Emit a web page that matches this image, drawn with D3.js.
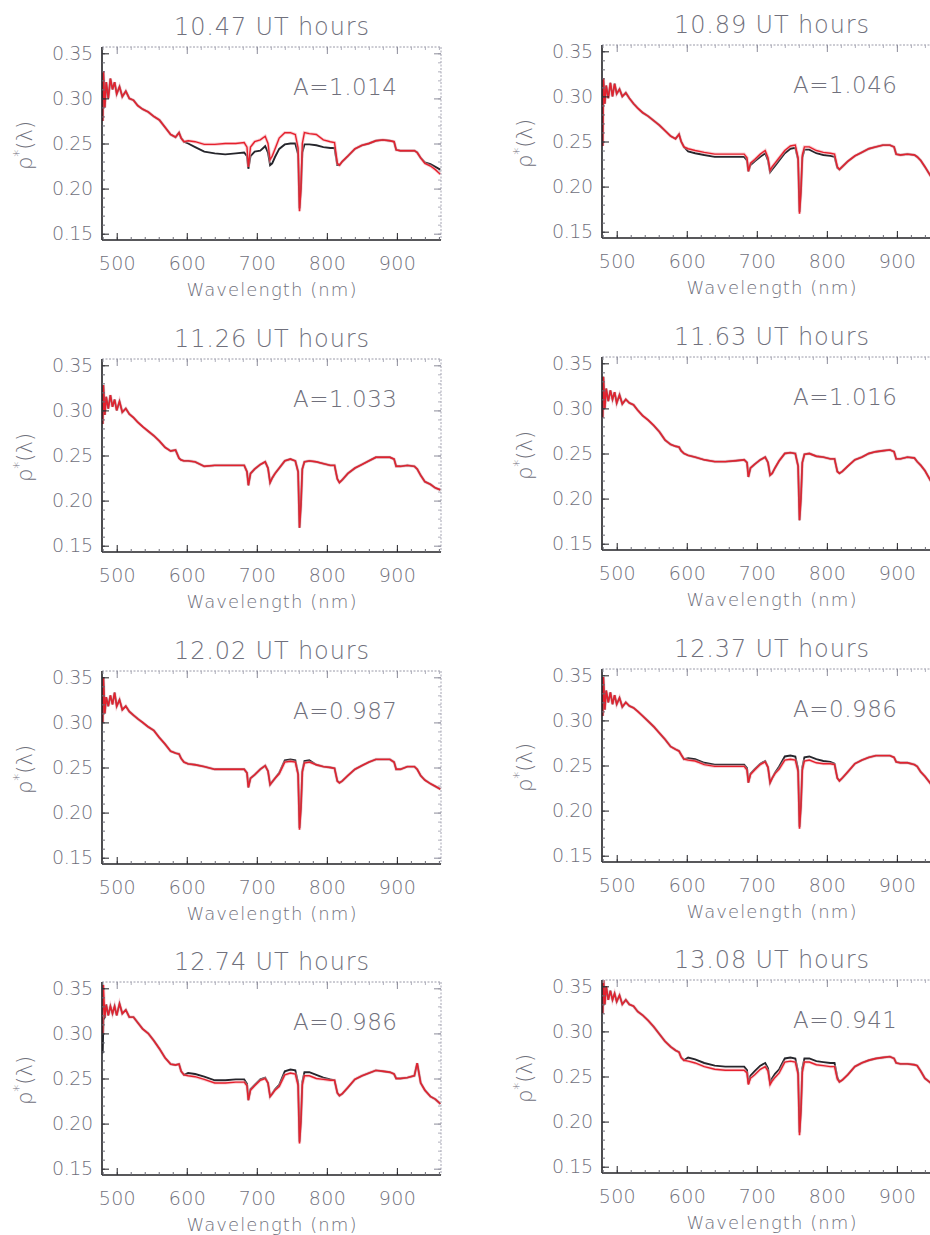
<!DOCTYPE html>
<html>
<head>
<meta charset="utf-8">
<script src="https://cdn.jsdelivr.net/npm/d3@7"></script>
<style>
  body { margin: 0; background: #fff; }
  svg text { font-family: "DejaVu Sans", sans-serif; font-weight: 200; fill: #70707c; }
</style>
</head>
<body>
<script>
// wavelength grid (nm) shared by every spectrum
const wavelength = [
  480, 481, 483, 485, 488, 491, 494, 497, 500, 504,
  508, 513, 518, 524, 530, 537, 545, 553, 561, 569,
  577, 584, 589, 592, 596, 602, 612, 625, 640, 655,
  670, 682, 686, 688, 691, 697, 705, 712, 716, 719,
  722, 726, 732, 740, 748, 755, 759, 761, 763, 765,
  768, 775, 785, 795, 805, 811, 815, 818, 822, 830,
  840, 850, 860, 870, 880, 890, 896, 899, 905, 915,
  925, 929, 934, 940, 948, 955, 962]

const hours = ['10.47', '10.89', '11.26', '11.63', '12.02', '12.37', '12.74', '13.08']
const amplitude = ['1.014', '1.046', '1.033', '1.016', '0.987', '0.986', '0.986', '0.941']

const yTicks = [0.15, 0.20, 0.25, 0.30, 0.35]
const xTicks = [500, 600, 700, 800, 900]

// measured (black) and model (red) reflectance, one pair per panel
const black1 = [
  0.275,0.330,0.290,0.318,0.300,0.322,0.310,0.318,0.305,0.313,
  0.302,0.308,0.300,0.298,0.292,0.288,0.285,0.280,0.276,0.268,
  0.260,0.257,0.262,0.256,0.252,0.250,0.246,0.241,0.239,0.238,
  0.239,0.240,0.236,0.222,0.236,0.241,0.242,0.247,0.240,0.226,
  0.228,0.235,0.244,0.249,0.250,0.250,0.238,0.178,0.200,0.240,
  0.249,0.249,0.248,0.246,0.245,0.245,0.226,0.226,0.230,0.236,
  0.244,0.248,0.250,0.253,0.254,0.253,0.252,0.243,0.242,0.242,
  0.242,0.240,0.234,0.229,0.227,0.224,0.221]
const red1 = [
  0.275,0.330,0.290,0.318,0.300,0.322,0.310,0.318,0.305,0.313,
  0.302,0.308,0.300,0.298,0.292,0.288,0.285,0.280,0.276,0.268,
  0.260,0.257,0.262,0.256,0.252,0.253,0.252,0.249,0.249,0.250,
  0.250,0.251,0.246,0.224,0.246,0.252,0.254,0.258,0.250,0.232,
  0.236,0.244,0.256,0.262,0.262,0.260,0.245,0.175,0.200,0.250,
  0.262,0.261,0.260,0.254,0.252,0.251,0.228,0.226,0.230,0.236,
  0.244,0.248,0.250,0.253,0.254,0.253,0.252,0.243,0.242,0.242,
  0.242,0.240,0.234,0.228,0.225,0.221,0.216]

const black2 = [
  0.245,0.320,0.292,0.312,0.298,0.315,0.300,0.314,0.303,0.308,
  0.300,0.304,0.298,0.292,0.287,0.282,0.278,0.273,0.268,0.262,
  0.256,0.253,0.258,0.250,0.244,0.239,0.237,0.235,0.233,0.233,
  0.233,0.233,0.229,0.217,0.224,0.228,0.233,0.237,0.229,0.216,
  0.219,0.223,0.229,0.237,0.242,0.243,0.230,0.172,0.195,0.232,
  0.241,0.241,0.237,0.235,0.234,0.233,0.221,0.219,0.222,0.228,
  0.234,0.238,0.242,0.244,0.246,0.246,0.244,0.236,0.235,0.236,
  0.235,0.233,0.229,0.222,0.212,0.206,0.200]
const red2 = [
  0.245,0.320,0.292,0.312,0.298,0.315,0.300,0.314,0.303,0.308,
  0.300,0.304,0.298,0.292,0.287,0.282,0.278,0.273,0.268,0.262,
  0.256,0.253,0.258,0.250,0.244,0.242,0.240,0.238,0.236,0.236,
  0.236,0.236,0.232,0.217,0.226,0.230,0.236,0.240,0.232,0.218,
  0.222,0.226,0.232,0.240,0.245,0.246,0.232,0.170,0.195,0.235,
  0.244,0.244,0.240,0.238,0.237,0.236,0.222,0.219,0.222,0.228,
  0.234,0.238,0.242,0.244,0.246,0.246,0.244,0.236,0.235,0.236,
  0.235,0.233,0.229,0.222,0.212,0.206,0.200]

const black3 = [
  0.285,0.328,0.295,0.315,0.302,0.317,0.304,0.312,0.300,0.310,
  0.298,0.302,0.296,0.292,0.287,0.282,0.277,0.272,0.266,0.259,
  0.255,0.256,0.247,0.245,0.244,0.244,0.243,0.238,0.239,0.239,
  0.239,0.239,0.232,0.217,0.230,0.235,0.240,0.243,0.236,0.220,
  0.225,0.230,0.236,0.244,0.246,0.244,0.232,0.170,0.195,0.235,
  0.243,0.244,0.243,0.241,0.239,0.239,0.224,0.220,0.223,0.230,
  0.236,0.240,0.244,0.248,0.248,0.248,0.246,0.238,0.238,0.239,
  0.238,0.235,0.228,0.221,0.218,0.214,0.212]
const red3 = [
  0.285,0.328,0.295,0.315,0.302,0.317,0.304,0.312,0.300,0.310,
  0.298,0.302,0.296,0.292,0.287,0.282,0.277,0.272,0.266,0.259,
  0.255,0.256,0.247,0.245,0.244,0.244,0.243,0.238,0.239,0.239,
  0.239,0.239,0.232,0.217,0.230,0.235,0.240,0.243,0.236,0.220,
  0.225,0.230,0.236,0.244,0.246,0.244,0.232,0.170,0.195,0.235,
  0.243,0.244,0.243,0.241,0.239,0.239,0.224,0.220,0.223,0.230,
  0.236,0.240,0.244,0.248,0.248,0.248,0.246,0.238,0.238,0.239,
  0.238,0.235,0.228,0.221,0.218,0.214,0.212]

const black4 = [
  0.290,0.335,0.300,0.322,0.308,0.320,0.310,0.318,0.306,0.315,
  0.305,0.310,0.306,0.304,0.298,0.292,0.287,0.281,0.274,0.265,
  0.260,0.258,0.257,0.253,0.250,0.248,0.246,0.243,0.241,0.241,
  0.242,0.243,0.240,0.224,0.234,0.238,0.243,0.246,0.240,0.226,
  0.228,0.234,0.242,0.250,0.251,0.250,0.236,0.176,0.200,0.240,
  0.249,0.250,0.247,0.246,0.244,0.244,0.230,0.228,0.230,0.236,
  0.243,0.246,0.250,0.252,0.253,0.254,0.252,0.244,0.244,0.246,
  0.245,0.241,0.237,0.231,0.220,0.214,0.208]
const red4 = [
  0.290,0.335,0.300,0.322,0.308,0.320,0.310,0.318,0.306,0.315,
  0.305,0.310,0.306,0.304,0.298,0.292,0.287,0.281,0.274,0.265,
  0.260,0.258,0.257,0.253,0.250,0.248,0.246,0.243,0.241,0.241,
  0.242,0.243,0.240,0.224,0.234,0.238,0.243,0.246,0.240,0.226,
  0.228,0.234,0.242,0.250,0.251,0.250,0.236,0.176,0.200,0.240,
  0.249,0.250,0.247,0.246,0.244,0.244,0.230,0.228,0.230,0.236,
  0.243,0.246,0.250,0.252,0.253,0.254,0.252,0.244,0.244,0.246,
  0.245,0.241,0.237,0.231,0.220,0.214,0.208]

const black5 = [
  0.300,0.350,0.310,0.328,0.318,0.330,0.320,0.333,0.318,0.325,
  0.314,0.318,0.312,0.308,0.304,0.300,0.295,0.291,0.283,0.276,
  0.268,0.266,0.265,0.260,0.256,0.254,0.253,0.251,0.248,0.248,
  0.248,0.248,0.244,0.228,0.238,0.242,0.248,0.252,0.246,0.231,
  0.234,0.238,0.244,0.258,0.259,0.258,0.243,0.183,0.205,0.246,
  0.257,0.258,0.253,0.251,0.250,0.249,0.235,0.233,0.235,0.241,
  0.248,0.252,0.256,0.259,0.259,0.259,0.256,0.248,0.248,0.251,
  0.251,0.248,0.241,0.236,0.232,0.229,0.226]
const red5 = [
  0.300,0.350,0.310,0.328,0.318,0.330,0.320,0.333,0.318,0.325,
  0.314,0.318,0.312,0.308,0.304,0.300,0.295,0.291,0.283,0.276,
  0.268,0.266,0.265,0.260,0.256,0.254,0.253,0.251,0.248,0.248,
  0.248,0.248,0.244,0.228,0.238,0.242,0.248,0.252,0.246,0.231,
  0.234,0.238,0.243,0.256,0.257,0.256,0.242,0.181,0.205,0.245,
  0.255,0.256,0.253,0.251,0.250,0.249,0.235,0.233,0.235,0.241,
  0.248,0.252,0.256,0.259,0.259,0.259,0.256,0.248,0.248,0.251,
  0.251,0.248,0.241,0.236,0.232,0.229,0.226]

const black6 = [
  0.305,0.348,0.312,0.333,0.320,0.331,0.318,0.328,0.318,0.325,
  0.315,0.320,0.316,0.314,0.310,0.305,0.299,0.293,0.286,0.279,
  0.271,0.268,0.266,0.262,0.257,0.258,0.257,0.253,0.251,0.251,
  0.251,0.251,0.247,0.231,0.241,0.246,0.252,0.255,0.248,0.231,
  0.236,0.242,0.249,0.260,0.261,0.260,0.246,0.182,0.205,0.248,
  0.259,0.260,0.257,0.255,0.254,0.252,0.236,0.233,0.236,0.243,
  0.252,0.256,0.259,0.261,0.261,0.261,0.259,0.254,0.253,0.253,
  0.251,0.249,0.243,0.238,0.230,0.222,0.216]
const red6 = [
  0.305,0.348,0.312,0.333,0.320,0.331,0.318,0.328,0.318,0.325,
  0.315,0.320,0.316,0.314,0.310,0.305,0.299,0.293,0.286,0.279,
  0.271,0.268,0.266,0.262,0.257,0.256,0.255,0.251,0.249,0.249,
  0.249,0.249,0.245,0.231,0.240,0.245,0.251,0.254,0.248,0.231,
  0.236,0.241,0.246,0.256,0.257,0.256,0.243,0.180,0.205,0.245,
  0.255,0.256,0.253,0.252,0.252,0.251,0.236,0.233,0.236,0.243,
  0.252,0.256,0.259,0.261,0.261,0.261,0.259,0.254,0.253,0.253,
  0.251,0.249,0.243,0.238,0.230,0.222,0.216]

const black7 = [
  0.278,0.315,0.318,0.332,0.320,0.330,0.322,0.330,0.320,0.333,
  0.322,0.326,0.318,0.318,0.312,0.305,0.300,0.292,0.283,0.273,
  0.266,0.265,0.266,0.258,0.254,0.256,0.255,0.252,0.248,0.248,
  0.249,0.249,0.244,0.226,0.238,0.243,0.249,0.251,0.245,0.230,
  0.233,0.238,0.243,0.258,0.260,0.259,0.245,0.180,0.203,0.246,
  0.257,0.257,0.254,0.251,0.249,0.248,0.234,0.231,0.233,0.240,
  0.249,0.253,0.256,0.259,0.258,0.257,0.255,0.250,0.250,0.251,
  0.253,0.267,0.245,0.237,0.230,0.227,0.222]
const red7 = [
  0.300,0.354,0.318,0.332,0.320,0.330,0.322,0.330,0.320,0.333,
  0.322,0.326,0.318,0.318,0.312,0.305,0.300,0.292,0.283,0.273,
  0.266,0.265,0.266,0.258,0.254,0.253,0.252,0.249,0.245,0.245,
  0.246,0.246,0.242,0.226,0.237,0.242,0.248,0.250,0.245,0.230,
  0.233,0.237,0.241,0.254,0.256,0.255,0.242,0.178,0.203,0.243,
  0.253,0.253,0.250,0.249,0.248,0.248,0.234,0.231,0.233,0.240,
  0.249,0.253,0.256,0.259,0.258,0.257,0.255,0.250,0.250,0.251,
  0.253,0.267,0.245,0.237,0.230,0.227,0.222]

const black8 = [
  0.320,0.359,0.330,0.350,0.335,0.345,0.335,0.342,0.333,0.340,
  0.330,0.335,0.330,0.328,0.322,0.318,0.312,0.305,0.297,0.289,
  0.283,0.279,0.277,0.271,0.268,0.271,0.269,0.265,0.262,0.261,
  0.261,0.261,0.257,0.242,0.251,0.256,0.262,0.265,0.259,0.243,
  0.248,0.253,0.258,0.270,0.271,0.270,0.255,0.188,0.212,0.259,
  0.270,0.270,0.267,0.266,0.265,0.265,0.249,0.244,0.246,0.252,
  0.261,0.265,0.268,0.270,0.271,0.272,0.270,0.265,0.264,0.264,
  0.263,0.262,0.256,0.248,0.243,0.237,0.232]
const red8 = [
  0.320,0.359,0.330,0.350,0.335,0.345,0.335,0.342,0.333,0.340,
  0.330,0.335,0.330,0.328,0.322,0.318,0.312,0.305,0.297,0.289,
  0.283,0.279,0.277,0.271,0.268,0.267,0.265,0.261,0.258,0.257,
  0.257,0.257,0.254,0.241,0.248,0.252,0.258,0.261,0.256,0.241,
  0.245,0.249,0.254,0.266,0.267,0.266,0.252,0.185,0.212,0.255,
  0.266,0.266,0.263,0.262,0.261,0.261,0.247,0.244,0.246,0.252,
  0.261,0.265,0.268,0.270,0.271,0.272,0.270,0.265,0.264,0.264,
  0.263,0.262,0.256,0.248,0.243,0.237,0.232]

const blacks = [black1, black2, black3, black4, black5, black6, black7, black8]
const reds = [red1, red2, red3, red4, red5, red6, red7, red8]

var width = 930,
    height = 1235

var pw = 339,
    ph = 193

// panel frames: two columns, four rows
var colLeft = [102, 602],
    rowTop = [47, 359, 671, 982],
    colShift = [0, -2]

var svg = d3.select('body').append('svg')
    .attr('width', width)
    .attr('height', height)

var x = d3.scaleLinear().domain([479, 963]).range([0, pw])
var y = d3.scaleLinear().domain([0.143, 0.357]).range([ph, 0])

var line = d3.line()
    .x((d, i) => x(wavelength[i]))
    .y(d => y(d))

var minorY = d3.range(15, 36).map(d => d / 100)
var minorX = d3.range(480, 961, 20)

function styleAxis(g, color) {
    g.attr('font-size', null).attr('font-family', null)
    g.select('.domain').remove()
    g.selectAll('line').attr('stroke', color)
}

hours.forEach((h, i) => {
    let col = i % 2, row = Math.floor(i / 2)
    let left = colLeft[col], top = rowTop[row] + colShift[col]

    let panel = svg.append('g')
        .attr('class', 'panel')
        .attr('transform', `translate(${left},${top})`)

    panel.append('clipPath')
        .attr('id', `clip${i}`)
        .append('rect')
        .attr('width', pw)
        .attr('height', ph)

    // spectra
    let lines = panel.append('g').attr('clip-path', `url(#clip${i})`)
    lines.append('path')
        .datum(blacks[i])
        .attr('d', line)
        .attr('fill', 'none')
        .attr('stroke', '#26262c')
        .attr('stroke-width', 1.9)
    lines.append('path')
        .datum(reds[i])
        .attr('d', line)
        .attr('fill', 'none')
        .attr('stroke', '#f2a3ab')
        .attr('stroke-width', 3.2)
        .attr('stroke-opacity', 0.55)
    lines.append('path')
        .datum(reds[i])
        .attr('d', line)
        .attr('fill', 'none')
        .attr('stroke', '#e5202d')
        .attr('stroke-width', 1.4)

    // frame: dark left/bottom, faint dotted top/right like the scan
    panel.append('line')
        .attr('x1', 0).attr('x2', pw).attr('y1', 0).attr('y2', 0)
        .attr('stroke', '#9a9aa8').attr('stroke-dasharray', '2,1.5')
    panel.append('line')
        .attr('x1', pw).attr('x2', pw).attr('y1', 0).attr('y2', ph)
        .attr('stroke', '#a4a4b2').attr('stroke-dasharray', '2,1.5')
    panel.append('line')
        .attr('x1', 0).attr('x2', pw).attr('y1', ph).attr('y2', ph)
        .attr('stroke', '#202024').attr('stroke-width', 1.6)
    panel.append('line')
        .attr('x1', 0).attr('x2', 0).attr('y1', 0).attr('y2', ph)
        .attr('stroke', '#202024').attr('stroke-width', 1.6)

    // ticks, inward
    panel.append('g')
        .call(d3.axisLeft(y).tickValues(minorY).tickFormat('').tickSizeInner(-3).tickSizeOuter(0))
        .call(styleAxis, '#6a6a74')
    panel.append('g')
        .attr('transform', `translate(${pw},0)`)
        .call(d3.axisRight(y).tickValues(minorY).tickFormat('').tickSizeInner(-3).tickSizeOuter(0))
        .call(styleAxis, '#b0b0bc')
    panel.append('g')
        .attr('transform', `translate(0,${ph})`)
        .call(d3.axisBottom(x).tickValues(minorX).tickFormat('').tickSizeInner(-3).tickSizeOuter(0))
        .call(styleAxis, '#6a6a74')
    panel.append('g')
        .call(d3.axisTop(x).tickValues(minorX).tickFormat('').tickSizeInner(-3).tickSizeOuter(0))
        .call(styleAxis, '#b0b0bc')

    let yAxis = panel.append('g')
        .call(d3.axisLeft(y).tickValues(yTicks).tickFormat(d3.format('.2f'))
            .tickSizeInner(-7).tickSizeOuter(0).tickPadding(9))
        .call(styleAxis, '#202024')
    yAxis.selectAll('text').attr('font-size', 19).attr('textLength', 41).attr('lengthAdjust', 'spacing')

    let xAxis = panel.append('g')
        .attr('transform', `translate(0,${ph})`)
        .call(d3.axisBottom(x).tickValues(xTicks).tickFormat(d3.format('d'))
            .tickSizeInner(-7).tickSizeOuter(0).tickPadding(17))
        .call(styleAxis, '#202024')
    xAxis.selectAll('text').attr('font-size', 19).attr('textLength', 37).attr('lengthAdjust', 'spacing')

    panel.append('g')
        .attr('transform', `translate(${pw},0)`)
        .call(d3.axisRight(y).tickValues(yTicks).tickFormat('').tickSizeInner(-7).tickSizeOuter(0))
        .call(styleAxis, '#8c8c9a')
    panel.append('g')
        .call(d3.axisTop(x).tickValues(xTicks).tickFormat('').tickSizeInner(-7).tickSizeOuter(0))
        .call(styleAxis, '#8c8c9a')

    // labels
    panel.append('text')
        .attr('x', pw / 2)
        .attr('y', -12)
        .attr('text-anchor', 'middle')
        .attr('font-size', 24)
        .attr('textLength', 195)
        .attr('lengthAdjust', 'spacing')
        .text(`${h} UT hours`)

    panel.append('text')
        .attr('x', 243)
        .attr('y', 48)
        .attr('text-anchor', 'middle')
        .attr('font-size', 23)
        .attr('textLength', 104)
        .attr('lengthAdjust', 'spacing')
        .text(`A=${amplitude[i]}`)

    panel.append('text')
        .attr('x', pw / 2)
        .attr('y', ph + 56)
        .attr('text-anchor', 'middle')
        .attr('font-size', 18)
        .attr('textLength', 170)
        .attr('lengthAdjust', 'spacing')
        .text('Wavelength (nm)')

    let ylab = panel.append('text')
        .attr('transform', `translate(-70,${ph / 2 + 2}) rotate(-90)`)
        .attr('text-anchor', 'middle')
        .attr('font-size', 21)
    ylab.append('tspan').text('ρ')
    ylab.append('tspan').attr('dy', -9).attr('font-size', 14).text('*')
    ylab.append('tspan').attr('dy', 9).text('(λ)')
})
</script>
</body>
</html>
